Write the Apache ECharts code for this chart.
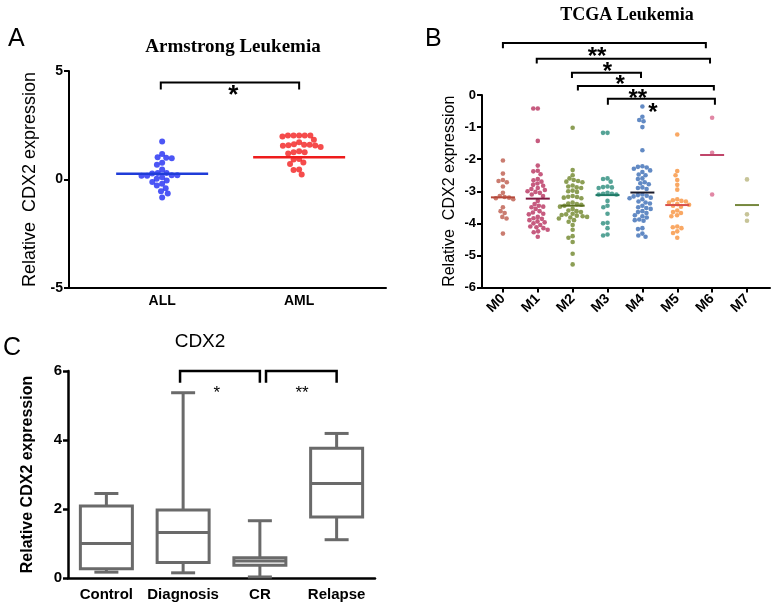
<!DOCTYPE html>
<html><head><meta charset="utf-8">
<script src="https://cdn.jsdelivr.net/npm/echarts@6/dist/echarts.min.js"></script>
<style>html,body{margin:0;padding:0;background:#fff}#c{width:777px;height:607px}</style>
</head><body><div id="c"></div>
<script>
// ---------- Panel A data ----------
const groupsA = ['ALL', 'AML'];
const valuesALL = [1.75, 1.18, 1.03, 1.0, 0.98, 0.77, 0.68, 0.46, 0.3, 0.3, 0.28, 0.2, 0.2, 0.17, 0.17, 0.1, 0.04, -0.05, -0.12, -0.2, -0.28, -0.4, -0.54, -0.64, -0.83];
const valuesAML = [2.03, 2.03, 2.03, 2.03, 2.03, 1.98, 1.83, 1.72, 1.62, 1.6, 1.6, 1.58, 1.57, 1.55, 1.5, 1.3, 1.26, 1.26, 1.2, 0.95, 0.92, 0.78, 0.72, 0.46, 0.44, 0.23];
const centerA = [0.26, 1.03];
const ticksA = [-5, 0, 5];
// bracket: [x1, x2, top, bottom], star: [x, y, label]
const bracketsA = [[0.99, 2.0, 4.47, 4.15]];
const starsA = [[1.52, 4.12, '*']];

// ---------- Panel B data ----------
const groupsB = ['M0', 'M1', 'M2', 'M3', 'M4', 'M5', 'M6', 'M7'];
const valuesM0 = [-2.04, -2.45, -2.65, -2.68, -2.72, -2.85, -3.05, -3.15, -3.18, -3.2, -3.22, -3.25, -3.5, -3.62, -3.68, -3.8, -3.85, -4.32];
const valuesM1 = [-0.42, -0.42, -1.43, -2.2, -2.36, -2.38, -2.47, -2.62, -2.66, -2.7, -2.76, -2.8, -2.83, -2.9, -2.93, -2.96, -3.0, -3.02, -3.05, -3.1, -3.15, -3.3, -3.4, -3.45, -3.48, -3.5, -3.55, -3.62, -3.66, -3.7, -3.72, -3.8, -3.84, -3.86, -3.9, -3.94, -3.97, -4.0, -4.05, -4.1, -4.12, -4.15, -4.2, -4.25, -4.28, -4.42];
const valuesM2 = [-1.02, -2.34, -2.5, -2.6, -2.65, -2.68, -2.7, -2.72, -2.82, -2.85, -2.88, -2.9, -2.98, -3.0, -3.02, -3.15, -3.17, -3.18, -3.2, -3.22, -3.35, -3.38, -3.4, -3.42, -3.45, -3.48, -3.55, -3.6, -3.62, -3.65, -3.7, -3.72, -3.74, -3.76, -3.78, -3.8, -3.82, -3.85, -3.9, -3.95, -4.05, -4.2, -4.4, -4.45, -4.58, -4.95, -5.28];
const valuesM3 = [-1.18, -1.18, -2.6, -2.62, -2.7, -2.85, -2.87, -2.88, -2.9, -3.05, -3.08, -3.08, -3.1, -3.1, -3.3, -3.45, -3.5, -3.7, -3.98, -4.0, -4.15, -4.35, -4.38];
const valuesM4 = [-0.36, -0.68, -0.78, -0.82, -1.0, -1.72, -2.22, -2.24, -2.26, -2.3, -2.35, -2.4, -2.48, -2.5, -2.6, -2.62, -2.72, -2.75, -2.78, -2.88, -2.9, -2.93, -3.1, -3.12, -3.14, -3.16, -3.2, -3.22, -3.25, -3.32, -3.35, -3.38, -3.45, -3.5, -3.52, -3.55, -3.62, -3.65, -3.68, -3.75, -3.78, -3.82, -3.88, -3.9, -3.92, -4.15, -4.18, -4.32, -4.38, -4.42];
const valuesM5 = [-1.23, -2.37, -2.5, -2.65, -2.8, -2.95, -3.25, -3.28, -3.3, -3.32, -3.35, -3.4, -3.42, -3.45, -3.48, -3.6, -3.65, -3.68, -3.75, -3.78, -4.1, -4.12, -4.15, -4.25, -4.3, -4.45];
const valuesM6 = [-0.71, -1.8, -3.1];
const valuesM7 = [-2.63, -3.72, -3.92];
const centerB = [-3.19, -3.23, -3.45, -3.12, -3.04, -3.43, -1.87, -3.43];
const ticksB = [-6, -5, -4, -3, -2, -1, 0];
const bracketsB = [[0.0, 5.82, 1.62, 1.46], [0.97, 5.94, 1.13, 0.98], [1.98, 3.96, 0.69, 0.53], [2.15, 6.05, 0.28, 0.14], [3.01, 6.08, -0.12, -0.3]];
const starsB = [[2.7, 1.33, '**'], [3.0, 0.86, '*'], [3.36, 0.46, '*'], [3.87, 0.04, '**'], [4.3, -0.4, '*']];

// ---------- Panel C data ----------
const groupsC = ['Control', 'Diagnosis', 'CR', 'Relapse'];
const boxMin = [0.17, 0.15, 0.03, 1.11];
const boxQ1 = [0.27, 0.45, 0.37, 1.77];
const boxMedian = [1.0, 1.32, 0.49, 2.74];
const boxQ3 = [2.09, 1.97, 0.59, 3.76];
const boxMax = [2.45, 5.37, 1.66, 4.19];
const ticksC = [0, 2, 4, 6];
const bracketsC = [[0.96, 2.0, 6.0, 5.66], [2.08, 3.0, 6.0, 5.66]];
const starsC = [[1.44, 5.45, '*'], [2.55, 5.45, '**']];

// ---------- layout ----------
const SANS = '"Liberation Sans", Arial, sans-serif';
const SERIF = '"Liberation Serif", "Times New Roman", serif';
const G = [
  { left: 69, top: 71, width: 317, height: 217, xmin: 0.32, xmax: 2.634 },
  { left: 482, top: 95, width: 288, height: 192.5, xmin: -0.6, xmax: 7.66 },
  { left: 68, top: 371, width: 307, height: 207, xmin: -0.5, xmax: 3.5 }
];

function swarm(values, cx, pxX, pxY, d) {
  const order = values.map((_, i) => i).sort((a, b) => values[b] - values[a]);
  const placed = [];
  const res = [];
  order.forEach(i => {
    const y = -values[i] * pxY;
    const near = placed.filter(p => Math.abs(p.y - y) < d);
    const cands = [0];
    near.forEach(p => {
      const dx = Math.sqrt(d * d - (p.y - y) * (p.y - y));
      cands.push(p.x + dx, p.x - dx);
    });
    cands.sort((a, b) => Math.abs(a) - Math.abs(b) || a - b);
    let x = 0;
    for (const c of cands) {
      if (near.every(p => (p.x - c) * (p.x - c) + (p.y - y) * (p.y - y) >= d * d - 1e-6)) { x = c; break; }
    }
    placed.push({ x, y });
    res.push([cx + x / pxX, values[i]]);
  });
  return res;
}

const pxXA = G[0].width / (G[0].xmax - G[0].xmin), pxYA = G[0].height / 10;
const pxXB = G[1].width / (G[1].xmax - G[1].xmin), pxYB = G[1].height / 6;

const colorsA = ['#1f2cf2', '#f21f1f'];
const lineColorsA = ['#1f3cd8', '#ee1c1c'];
const colorsB = ['#bd5b4c', '#b8325f', '#6f862b', '#2a8c7c', '#3b6db5', '#f7923d', '#d9698e', '#b9b57e'];
const lineColorsB = ['#b5483a', '#7d1840', '#5c7020', '#1f7a66', '#1a1a2a', '#d8504a', '#c0456a', '#76883e'];
const valuesB = [valuesM0, valuesM1, valuesM2, valuesM3, valuesM4, valuesM5, valuesM6, valuesM7];

function axisCommon(w) {
  return {
    axisLine: { show: true, onZero: false, lineStyle: { color: '#000', width: w } },
    splitLine: { show: false }
  };
}

const xAxes = [
  Object.assign({ gridIndex: 0, type: 'value', min: G[0].xmin, max: G[0].xmax,
    axisTick: { show: false },
    axisLabel: { customValues: [1, 2], formatter: v => groupsA[Math.round(v) - 1], color: '#000', fontWeight: 'bold', fontSize: 14, fontFamily: SANS, margin: 6 }
  }, axisCommon(2)),
  Object.assign({ gridIndex: 1, type: 'value', min: G[1].xmin, max: G[1].xmax,
    axisTick: { show: true, customValues: [0, 1, 2, 3, 4, 5, 6, 7], length: 5, lineStyle: { color: '#000', width: 2 } },
    axisLabel: { customValues: [0, 1, 2, 3, 4, 5, 6, 7], formatter: v => groupsB[Math.round(v)], rotate: 45, color: '#000', fontWeight: 'bold', fontSize: 14, fontFamily: SANS, margin: 9 }
  }, axisCommon(2)),
  Object.assign({ gridIndex: 2, type: 'value', min: G[2].xmin, max: G[2].xmax,
    axisTick: { show: false },
    axisLabel: { customValues: [0, 1, 2, 3], formatter: v => groupsC[Math.round(v)], color: '#000', fontWeight: 'bold', fontSize: 15, fontFamily: SANS, margin: 9 }
  }, axisCommon(2.5))
];

const yAxes = [
  Object.assign({ gridIndex: 0, type: 'value', min: -5, max: 5, interval: 5,
    axisTick: { show: true, length: 5, lineStyle: { color: '#000', width: 2 } },
    axisLabel: { color: '#000', fontWeight: 'bold', fontSize: 14, fontFamily: SANS, margin: 6 },
    name: 'Relative  CDX2 expression', nameLocation: 'middle', nameGap: 30,
    nameTextStyle: { color: '#000', fontSize: 18, fontFamily: SANS }
  }, axisCommon(2)),
  Object.assign({ gridIndex: 1, type: 'value', min: -6, max: 0, interval: 1,
    axisTick: { show: true, length: 5, lineStyle: { color: '#000', width: 2 } },
    axisLabel: { color: '#000', fontWeight: 'bold', fontSize: 13, fontFamily: SANS, margin: 6 },
    name: 'Relative  CDX2 expression', nameLocation: 'middle', nameGap: 24,
    nameTextStyle: { color: '#000', fontSize: 16, fontFamily: SANS }
  }, axisCommon(2)),
  Object.assign({ gridIndex: 2, type: 'value', min: 0, max: 6, interval: 2,
    axisTick: { show: true, length: 5, lineStyle: { color: '#000', width: 2.5 } },
    axisLabel: { color: '#000', fontWeight: 'bold', fontSize: 15, fontFamily: SANS, margin: 6 },
    name: 'Relative CDX2 expression', nameLocation: 'middle', nameGap: 32,
    nameTextStyle: { color: '#000', fontSize: 16, fontWeight: 'bold', fontFamily: SANS }
  }, axisCommon(2.5))
];

const series = [];
// Panel A dots
[valuesALL, valuesAML].forEach((vals, g) => {
  series.push({ type: 'scatter', xAxisIndex: 0, yAxisIndex: 0, symbolSize: 6,
    itemStyle: { color: colorsA[g] }, data: swarm(vals, g + 1, pxXA, pxYA, 5.6), z: 3 });
});
function meanLines(xi, centers, colors, hw, lw, offset) {
  return { type: 'custom', xAxisIndex: xi, yAxisIndex: xi, clip: false, z: 4,
    data: centers.map((m, i) => [i + offset, m]),
    renderItem: (p, api) => {
      const c = api.coord([api.value(0), api.value(1)]);
      return { type: 'line', shape: { x1: c[0] - hw, y1: c[1], x2: c[0] + hw, y2: c[1] },
        style: { stroke: colors[p.dataIndex], lineWidth: lw } };
    } };
}
series.push(meanLines(0, centerA, lineColorsA, 46, 2.5, 1));
// Panel B dots
valuesB.forEach((vals, g) => {
  series.push({ type: 'scatter', xAxisIndex: 1, yAxisIndex: 1, symbolSize: 4.6,
    itemStyle: { color: colorsB[g] }, data: swarm(vals, g, pxXB, pxYB, 4.5), z: 3 });
});
series.push(meanLines(1, centerB, lineColorsB, 12, 2, 0));

function brackets(xi, list, lw) {
  return { type: 'custom', xAxisIndex: xi, yAxisIndex: xi, clip: false, z: 5, data: list,
    renderItem: (p, api) => {
      const x1 = api.value(0), x2 = api.value(1), t = api.value(2), b = api.value(3);
      return { type: 'polyline', shape: { points: [api.coord([x1, b]), api.coord([x1, t]), api.coord([x2, t]), api.coord([x2, b])] },
        style: { stroke: '#000', lineWidth: lw, fill: null } };
    } };
}
function stars(xi, list, fs, weight) {
  return { type: 'custom', xAxisIndex: xi, yAxisIndex: xi, clip: false, z: 5,
    data: list.map(s => [s[0], s[1]]),
    renderItem: (p, api) => {
      const c = api.coord([api.value(0), api.value(1)]);
      return { type: 'text', x: c[0], y: c[1] + fs * 0.22,
        style: { text: list[p.dataIndex][2], fill: '#000', font: weight + ' ' + fs + 'px ' + SANS, align: 'center', verticalAlign: 'middle' } };
    } };
}
series.push(brackets(0, bracketsA, 2));
series.push(stars(0, starsA, 26, 'bold'));
series.push(brackets(1, bracketsB, 2));
series.push(stars(1, starsB, 24, 'bold'));

// Panel C boxes
series.push({ type: 'custom', xAxisIndex: 2, yAxisIndex: 2, clip: false, z: 3,
  data: groupsC.map((g, i) => [i, boxMin[i], boxQ1[i], boxMedian[i], boxQ3[i], boxMax[i]]),
  renderItem: (p, api) => {
    const i = api.value(0);
    const mn = api.coord([i, api.value(1)]), q1 = api.coord([i, api.value(2)]), md = api.coord([i, api.value(3)]),
      q3 = api.coord([i, api.value(4)]), mx = api.coord([i, api.value(5)]);
    const x = mn[0], hw = 26, cw = 12;
    const st = { stroke: '#6a6a6a', lineWidth: 3, fill: null };
    return { type: 'group', children: [
      { type: 'line', shape: { x1: x, y1: q3[1], x2: x, y2: mx[1] }, style: st },
      { type: 'line', shape: { x1: x, y1: q1[1], x2: x, y2: mn[1] }, style: st },
      { type: 'line', shape: { x1: x - cw, y1: mx[1], x2: x + cw, y2: mx[1] }, style: st },
      { type: 'line', shape: { x1: x - cw, y1: mn[1], x2: x + cw, y2: mn[1] }, style: st },
      { type: 'rect', shape: { x: x - hw, y: q3[1], width: 2 * hw, height: q1[1] - q3[1] }, style: { stroke: '#6a6a6a', lineWidth: 3, fill: '#fff' } },
      { type: 'line', shape: { x1: x - hw, y1: md[1], x2: x + hw, y2: md[1] }, style: st }
    ] };
  } });
series.push(brackets(2, bracketsC, 2.5));
series.push(stars(2, starsC, 17, 'normal'));

const chart = echarts.init(document.getElementById('c'), null, { renderer: 'canvas' });
chart.setOption({
  backgroundColor: '#fff',
  animation: false,
  grid: G.map(g => ({ left: g.left, top: g.top, width: g.width, height: g.height, containLabel: false })),
  xAxis: xAxes,
  yAxis: yAxes,
  series: series,
  graphic: [
    { type: 'text', x: 8, y: 27, style: { text: 'A', font: '25px ' + SANS, fill: '#000' } },
    { type: 'text', x: 425, y: 27, style: { text: 'B', font: '25px ' + SANS, fill: '#000' } },
    { type: 'text', x: 3, y: 336, style: { text: 'C', font: '25px ' + SANS, fill: '#000' } },
    { type: 'text', x: 233, y: 47, style: { text: 'Armstrong Leukemia', font: 'bold 19px ' + SERIF, fill: '#000', align: 'center', verticalAlign: 'middle' } },
    { type: 'text', x: 627, y: 15, style: { text: 'TCGA Leukemia', font: 'bold 18px ' + SERIF, fill: '#000', align: 'center', verticalAlign: 'middle' } },
    { type: 'text', x: 200, y: 342, style: { text: 'CDX2', font: '19px ' + SANS, fill: '#000', align: 'center', verticalAlign: 'middle' } }
  ]
});
</script>
</body></html>
